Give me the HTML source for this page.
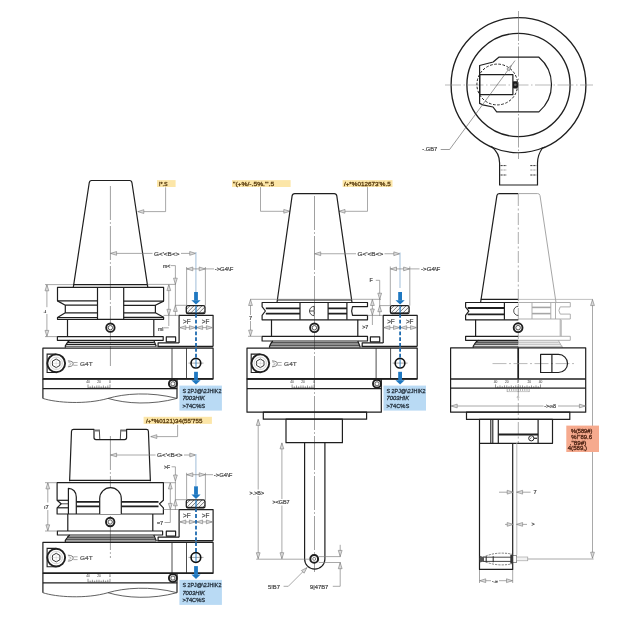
<!DOCTYPE html>
<html><head><meta charset="utf-8"><style>
html,body{margin:0;padding:0;background:#fff;}
svg{display:block;will-change:transform;}
.k{stroke:#1f1f1f;stroke-width:1.2;fill:none;stroke-linejoin:round;}
.kt{stroke:#1f1f1f;stroke-width:0.8;fill:none;}
.kf{stroke:#1f1f1f;stroke-width:1.2;fill:#fff;stroke-linejoin:round;}
.g{stroke:#7a7a7a;stroke-width:0.65;fill:none;}
.lg{stroke:#b4b4b4;stroke-width:0.9;fill:none;}
.c{stroke:#777;stroke-width:0.7;fill:none;stroke-dasharray:34 2.2 1.6 2.2;}
.tx{font-family:"Liberation Sans",sans-serif;fill:#3a3a3a;}
.tl{font-family:"Liberation Sans",sans-serif;fill:#3a2a10;}
</style></head><body>
<svg width="640" height="640" viewBox="0 0 640 640">
<path d="M110.4,186 V366" class="c"/>
<path d="M73.3,287.3 L89.2,183 Q89.5,180.5 91.6,180.5 L129.6,180.5 Q131.7,180.5 132,183 L147.8,287.3" class="k"/>
<line x1="73.4" y1="284.6" x2="147.4" y2="284.6" class="k"/>
<path d="M57.5,287.3 H163.6 V301.1 L155.4,305.3 V312.8 L163.6,317.3 V319.3 H57.5 V317.5 L65.3,312.8 V305.2 L57.5,300.9 Z" class="k"/>
<line x1="57.5" y1="300.9" x2="97.5" y2="300.9" class="k"/>
<line x1="65.3" y1="305.2" x2="97.5" y2="305.2" class="k"/>
<line x1="65.3" y1="312.8" x2="97.5" y2="312.8" class="k"/>
<line x1="57.5" y1="317.5" x2="97.5" y2="317.5" class="k"/>
<line x1="123.7" y1="301.1" x2="163.6" y2="301.1" class="k"/>
<line x1="123.7" y1="305.3" x2="155.4" y2="305.3" class="k"/>
<line x1="123.7" y1="312.8" x2="155.4" y2="312.8" class="k"/>
<line x1="123.7" y1="317.3" x2="163.6" y2="317.3" class="k"/>
<line x1="97.5" y1="287.3" x2="97.5" y2="319.3" class="k"/>
<line x1="123.7" y1="287.3" x2="123.7" y2="319.3" class="k"/>
<path d="M67.5,319.3 V336.6 M153.8,319.3 V336.6" class="k"/>
<circle cx="110.4" cy="327.7" r="4.2" fill="#fff" stroke="#1f1f1f" stroke-width="1.9"/>
<circle cx="110.4" cy="327.7" r="2.18" fill="none" stroke="#444" stroke-width="0.9"/>
<rect x="57.4" y="336.6" width="105.79999999999998" height="3.6999999999999886" class="k" />
<path d="M69.7,340.3 Q68,341.8 67,343.2 L65.3,345.8 V347.8" class="k"/>
<path d="M153.8,340.3 L156.3,346.4" class="k"/>
<line x1="67.2" y1="342.4" x2="153.9" y2="342.4" class="k"/>
<line x1="66" y1="344.4" x2="155" y2="344.4" class="k"/>
<line x1="65.3" y1="346.3" x2="156.3" y2="346.3" class="kt"/>
<path d="M179.1,342.9 V315.3 H213.1 V346.4" class="k"/>
<path d="M158.1,346.6 V342.9 H179.1" class="k"/>
<line x1="157.5" y1="346.4" x2="213.1" y2="346.4" stroke="#1f1f1f" stroke-width="1.5"/>
<rect x="166.3" y="336.9" width="9.3" height="4.9" class="k" />
<text x="186.8" y="323.9" font-size="6.3" fill="#4a4a4a" stroke="#4a4a4a" stroke-width="0.22" font-family="Liberation Sans, sans-serif" text-anchor="middle">&gt;F</text>
<text x="205.6" y="323.9" font-size="6.3" fill="#4a4a4a" stroke="#4a4a4a" stroke-width="0.22" font-family="Liberation Sans, sans-serif" text-anchor="middle">&gt;F</text>
<line x1="179.6" y1="327.6" x2="212.6" y2="327.6" class="g"/>
<path d="M185.80,325.70 L179.8,327.6 L185.80,329.50 Z" fill="#dcdcdc" stroke="#7a7a7a" stroke-width="0.6" stroke-linejoin="miter"/>
<path d="M189.40,329.50 L195.4,327.6 L189.40,325.70 Z" fill="#dcdcdc" stroke="#7a7a7a" stroke-width="0.6" stroke-linejoin="miter"/>
<path d="M202.60,325.70 L196.6,327.6 L202.60,329.50 Z" fill="#dcdcdc" stroke="#7a7a7a" stroke-width="0.6" stroke-linejoin="miter"/>
<path d="M206.40,329.50 L212.4,327.6 L206.40,325.70 Z" fill="#dcdcdc" stroke="#7a7a7a" stroke-width="0.6" stroke-linejoin="miter"/>
<path d="M196,314 V347" stroke="#1e6bb0" stroke-width="1.8" stroke-dasharray="3.8 2"/>
<clipPath id="ci186305"><rect x="186.3" y="305.6" width="18.7" height="7.9" rx="1.6"/></clipPath>
<rect x="186.3" y="305.6" width="18.7" height="7.9" rx="1.6" fill="#fafafa"/>
<path d="M174.3,313.5 l7.9,-7.9 M178.3,313.5 l7.9,-7.9 M182.3,313.5 l7.9,-7.9 M186.3,313.5 l7.9,-7.9 M190.3,313.5 l7.9,-7.9 M194.3,313.5 l7.9,-7.9 M198.3,313.5 l7.9,-7.9 M202.3,313.5 l7.9,-7.9 M206.3,313.5 l7.9,-7.9 M210.3,313.5 l7.9,-7.9 M214.3,313.5 l7.9,-7.9" stroke="#444" stroke-width="0.7" clip-path="url(#ci186305)"/>
<rect x="186.3" y="305.6" width="18.7" height="7.9" rx="1.6" fill="none" stroke="#1f1f1f" stroke-width="1.3"/>
<path d="M187.3,313.2 H204.0" stroke="#1f1f1f" stroke-width="1.4"/>
<path d="M196,305.8 V313.3" stroke="#1f78c1" stroke-width="1.2"/>
<rect x="194.1" y="292" width="3.8" height="8.500000000000046" fill="#1f78c1"/>
<path d="M191.4,300.20000000000005 L200.6,300.20000000000005 L196,304.6 Z" fill="#1f78c1"/>
<path d="M42.9,378.9 V398.4" class="k"/>
<path d="M177.0,378.9 V398.4" class="k"/>
<path d="M42.9,398.4 C56,402.8 86,404.8 108,398.4 C124,393.6 150,391.4 177,398.4 M108,398.4 C126,403.8 152,405.2 177,398.4" fill="none" stroke="#444" stroke-width="0.85"/>
<line x1="42.9" y1="388.6" x2="177.2" y2="388.6" class="k"/>
<rect x="42.9" y="348.1" width="170.2" height="30.799999999999955" class="k" />
<line x1="42.9" y1="378.9" x2="213.1" y2="378.9" stroke="#1f1f1f" stroke-width="1.6"/>
<line x1="172" y1="348.1" x2="172" y2="378.9" class="kt"/>
<line x1="186.5" y1="348.1" x2="186.5" y2="378.9" class="kt"/>
<line x1="188.5" y1="363.1" x2="203.5" y2="363.1" class="g"/>
<circle cx="195.9" cy="363.2" r="4.85" fill="none" stroke="#111" stroke-width="1.6"/>
<path d="M56.2,354.1 H47.1 V372.5 H56.2" fill="none" stroke="#1f1f1f" stroke-width="1.1"/>
<circle cx="56.2" cy="363.3" r="8.9" fill="#fff" stroke="#1f1f1f" stroke-width="1.9"/>
<circle cx="56.2" cy="363.3" r="6.2" fill="none" stroke="#999" stroke-width="0.4"/>
<polygon points="59.92,365.45 56.20,367.60 52.48,365.45 52.48,361.15 56.20,359.00 59.92,361.15" fill="none" stroke="#1f1f1f" stroke-width="0.9"/>
<path d="M50.2,363.3 H62.2 M56.2,357.3 V369.3" stroke="#bbb" stroke-width="0.4"/>
<path d="M67.9,360.90000000000003 Q73.5,361.2 73.2,363.8 Q73.0,366.5 67.9,366.8" fill="none" stroke="#555" stroke-width="0.75"/>
<path d="M68.5,362.5 Q71.2,362.8 71.10000000000001,363.8 Q71.0,364.90000000000003 68.5,365.2" fill="none" stroke="#777" stroke-width="0.5"/>
<path d="M73.30000000000001,362.5 H77.60000000000001 M73.30000000000001,365.3 H77.60000000000001" stroke="#777" stroke-width="0.6"/>
<text x="80" y="366.1" font-size="6.1" fill="#555" stroke="#555" stroke-width="0.2" font-family="Liberation Sans, sans-serif" textLength="12.6" lengthAdjust="spacingAndGlyphs">G4T</text>
<text x="88" y="382.90000000000003" font-size="3.3" fill="#333" text-anchor="middle" font-family="Liberation Sans, sans-serif">40</text>
<text x="99" y="382.90000000000003" font-size="3.3" fill="#333" text-anchor="middle" font-family="Liberation Sans, sans-serif">20</text>
<text x="110" y="382.90000000000003" font-size="3.3" fill="#333" text-anchor="middle" font-family="Liberation Sans, sans-serif">0</text>
<path d="M88.00,388.1 v-3.6 M90.20,388.1 v-1.8 M92.40,388.1 v-2.6 M94.60,388.1 v-1.8 M96.80,388.1 v-2.6 M99.00,388.1 v-2.6 M101.20,388.1 v-1.8 M103.40,388.1 v-2.6 M105.60,388.1 v-1.8 M107.80,388.1 v-2.6 M110.00,388.1 v-3.6" stroke="#444" stroke-width="0.55"/>
<path d="M88,387.90000000000003 H110" stroke="#444" stroke-width="0.5"/>
<circle cx="172.9" cy="383.8" r="4.0" fill="#fff" stroke="#1f1f1f" stroke-width="1.9"/>
<circle cx="172.9" cy="383.8" r="2.08" fill="none" stroke="#444" stroke-width="0.9"/>
<rect x="179.4" y="385.6" width="42.5" height="25" fill="#b9daf4"/>
<text x="182.4" y="393.0" font-size="5.9" fill="#26333f" stroke="#26333f" stroke-width="0.28" font-family="Liberation Sans, sans-serif" textLength="39" lengthAdjust="spacingAndGlyphs">S 2PJ@\2JHIK2</text>
<text x="182.4" y="400.4" font-size="5.9" fill="#26333f" stroke="#26333f" stroke-width="0.28" font-family="Liberation Sans, sans-serif" font-style="italic" textLength="22.6" lengthAdjust="spacingAndGlyphs">7003HIK</text>
<text x="182.4" y="407.5" font-size="5.9" fill="#26333f" stroke="#26333f" stroke-width="0.28" font-family="Liberation Sans, sans-serif" textLength="22.8" lengthAdjust="spacingAndGlyphs">&gt;74C%S</text>
<path d="M196,348 V358.5" stroke="#1e6bb0" stroke-width="1.8" stroke-dasharray="3.8 2"/>
<path d="M196,359 V367.5" stroke="#1f78c1" stroke-width="0.9"/>
<rect x="194.1" y="371.8" width="3.8" height="8.700000000000035" fill="#1f78c1"/>
<path d="M191.4,380.20000000000005 L200.6,380.20000000000005 L196,384.6 Z" fill="#1f78c1"/>
<line x1="45" y1="284.6" x2="73" y2="284.6" class="g"/>
<line x1="45" y1="336.6" x2="57.4" y2="336.6" class="g"/>
<line x1="46.9" y1="284.8" x2="46.9" y2="336.4" class="g"/>
<path d="M48.80,290.80 L46.9,284.8 L45.00,290.80 Z" fill="#dcdcdc" stroke="#7a7a7a" stroke-width="0.6" stroke-linejoin="miter"/>
<path d="M45.00,330.40 L46.9,336.4 L48.80,330.40 Z" fill="#dcdcdc" stroke="#7a7a7a" stroke-width="0.6" stroke-linejoin="miter"/>
<rect x="44" y="307.2" width="4" height="6.8" fill="#fff"/>
<text x="45.6" y="312.6" font-size="5.6" fill="#4a4a4a" stroke="#4a4a4a" stroke-width="0.22" font-family="Liberation Sans, sans-serif" text-anchor="middle">ı</text>
<path d="M43.6,312.3 H46.2" stroke="#555" stroke-width="0.6"/>
<rect x="157" y="180.1" width="18.6" height="6.9" fill="#fce6a8"/>
<text x="158.9" y="186.1" font-size="5.9" fill="#5a3d10" stroke="#5a3d10" stroke-width="0.28" font-family="Liberation Sans, sans-serif" textLength="8.7" lengthAdjust="spacingAndGlyphs">I*.S</text>
<path d="M165.6,187.3 V211.6 H137.8" class="g"/>
<path d="M143.80,209.70 L137.8,211.6 L143.80,213.50 Z" fill="#dcdcdc" stroke="#7a7a7a" stroke-width="0.6" stroke-linejoin="miter"/>
<line x1="110.4" y1="253.4" x2="195.9" y2="253.4" class="g"/>
<path d="M116.60,251.50 L110.6,253.4 L116.60,255.30 Z" fill="#dcdcdc" stroke="#7a7a7a" stroke-width="0.6" stroke-linejoin="miter"/>
<path d="M189.70,255.30 L195.7,253.4 L189.70,251.50 Z" fill="#dcdcdc" stroke="#7a7a7a" stroke-width="0.6" stroke-linejoin="miter"/>
<rect x="152.5" y="250" width="28.5" height="6.5" fill="#fff"/>
<text x="153.9" y="255.6" font-size="5.9" fill="#4a4a4a" stroke="#4a4a4a" stroke-width="0.22" font-family="Liberation Sans, sans-serif" text-anchor="start" textLength="25.5" lengthAdjust="spacingAndGlyphs">G&lt;'&lt;B&lt;&gt;</text>
<path d="M195.9,252 V292" stroke="#a9c4dc" stroke-width="1.1"/>
<line x1="186.6" y1="267" x2="186.6" y2="305.6" class="g"/>
<line x1="205.4" y1="267" x2="205.4" y2="305.6" class="g"/>
<line x1="186.6" y1="268.9" x2="214" y2="268.9" class="g"/>
<path d="M192.80,267.00 L186.8,268.9 L192.80,270.80 Z" fill="#dcdcdc" stroke="#7a7a7a" stroke-width="0.6" stroke-linejoin="miter"/>
<path d="M199.20,270.80 L205.2,268.9 L199.20,267.00 Z" fill="#dcdcdc" stroke="#7a7a7a" stroke-width="0.6" stroke-linejoin="miter"/>
<text x="214.7" y="270.9" font-size="5.8" fill="#4a4a4a" stroke="#4a4a4a" stroke-width="0.22" font-family="Liberation Sans, sans-serif" text-anchor="start" textLength="18.6" lengthAdjust="spacingAndGlyphs">-&gt;G4\F</text>
<text x="163" y="267.6" font-size="5.2" fill="#4a4a4a" stroke="#4a4a4a" stroke-width="0.22" font-family="Liberation Sans, sans-serif" text-anchor="start">m&lt;</text>
<path d="M170.6,265.6 H175.4 V316" class="g"/>
<path d="M173.50,278.20 L175.4,284.2 L177.30,278.20 Z" fill="#dcdcdc" stroke="#7a7a7a" stroke-width="0.6" stroke-linejoin="miter"/>
<line x1="147.6" y1="284.4" x2="175.6" y2="284.4" class="g"/>
<line x1="168.8" y1="284.6" x2="168.8" y2="326" class="g"/>
<path d="M170.70,290.60 L168.8,284.6 L166.90,290.60 Z" fill="#dcdcdc" stroke="#7a7a7a" stroke-width="0.6" stroke-linejoin="miter"/>
<path d="M166.90,309.30 L168.8,315.3 L170.70,309.30 Z" fill="#dcdcdc" stroke="#7a7a7a" stroke-width="0.6" stroke-linejoin="miter"/>
<path d="M177.30,311.40 L175.4,305.4 L173.50,311.40 Z" fill="#dcdcdc" stroke="#7a7a7a" stroke-width="0.6" stroke-linejoin="miter"/>
<line x1="175.4" y1="305.3" x2="186.3" y2="305.3" class="g"/>
<line x1="163.6" y1="315.4" x2="179.1" y2="315.4" class="g"/>
<text x="158" y="330.5" font-size="5.2" fill="#4a4a4a" stroke="#4a4a4a" stroke-width="0.22" font-family="Liberation Sans, sans-serif" text-anchor="start">ml</text>
<line x1="163.8" y1="327.8" x2="168.8" y2="327.8" class="g"/>
<path d="M110.4,436 V558" class="c"/>
<path d="M69.6,481.2 L71.5,431.2 Q71.7,429.3 73.6,429.3 H94 V437.6 Q94,439.6 96,439.6 H124.6 Q126.6,439.6 126.6,437.6 V429.3 H146.4 Q148.3,429.3 148.4,431.2 L150.4,481.2" class="k"/>
<path d="M99.3,429.6 L99.8,439.4 M120.8,429.6 L120.3,439.4" class="kt"/>
<path d="M94.3,429.6 H99.3 L99.4,431.6 H94.3 Z M120.8,429.6 H126 V431.6 H120.7 Z" fill="#777"/>
<line x1="69.6" y1="480.3" x2="150.4" y2="480.3" class="k"/>
<path d="M57.1,482.7 H163.4 V500.3 L159.5,503.8 L163.4,507.8 V514 H57.1 V507.8 L61.1,503.8 L57.1,500.3 Z" class="k"/>
<path d="M76.3,501.8 H99.7 M121.3,501.8 H158.5" stroke="#1f1f1f" stroke-width="1.7"/>
<path d="M76.3,506.3 H99.7 M121.3,506.3 H158.5" stroke="#1f1f1f" stroke-width="1.7"/>
<line x1="57.1" y1="500.3" x2="68.4" y2="500.3" class="k"/>
<line x1="57.1" y1="507.8" x2="68.4" y2="507.8" class="k"/>
<line x1="61.1" y1="503.8" x2="68.4" y2="503.8" class="kt"/>
<path d="M68.4,514 V488.3 C73,488.3 76.3,492 76.3,497 V514" class="k"/>
<path d="M99.7,514 V498.5 A10.8,10.8 0 0 1 121.3,498.5 V514" class="kf"/>
<path d="M67.8,514 V531 M152.8,514 V531" class="k"/>
<circle cx="110.2" cy="522" r="4.2" fill="#fff" stroke="#1f1f1f" stroke-width="1.9"/>
<circle cx="110.2" cy="522" r="2.18" fill="none" stroke="#444" stroke-width="0.9"/>
<rect x="57.4" y="531" width="105.19999999999999" height="4" class="k" />
<path d="M69.7,535 Q68,536.5 67,538 L65.3,540.3 V542" class="k"/>
<path d="M153.8,535 L156.3,541" class="k"/>
<line x1="67.2" y1="537.1" x2="153.9" y2="537.1" class="k"/>
<line x1="66" y1="539.1" x2="155" y2="539.1" class="k"/>
<line x1="65.3" y1="541" x2="156.3" y2="541" class="kt"/>
<path d="M179.1,537.2 V509.6 H213.1 V540.7" class="k"/>
<path d="M158.1,540.9 V537.2 H179.1" class="k"/>
<line x1="157.5" y1="540.7" x2="213.1" y2="540.7" stroke="#1f1f1f" stroke-width="1.5"/>
<rect x="166.3" y="531.2" width="9.3" height="4.9" class="k" />
<text x="186.8" y="518.2" font-size="6.3" fill="#4a4a4a" stroke="#4a4a4a" stroke-width="0.22" font-family="Liberation Sans, sans-serif" text-anchor="middle">&gt;F</text>
<text x="205.6" y="518.2" font-size="6.3" fill="#4a4a4a" stroke="#4a4a4a" stroke-width="0.22" font-family="Liberation Sans, sans-serif" text-anchor="middle">&gt;F</text>
<line x1="179.6" y1="521.9" x2="212.6" y2="521.9" class="g"/>
<path d="M185.80,520.00 L179.8,521.9 L185.80,523.80 Z" fill="#dcdcdc" stroke="#7a7a7a" stroke-width="0.6" stroke-linejoin="miter"/>
<path d="M189.40,523.80 L195.4,521.9 L189.40,520.00 Z" fill="#dcdcdc" stroke="#7a7a7a" stroke-width="0.6" stroke-linejoin="miter"/>
<path d="M202.60,520.00 L196.6,521.9 L202.60,523.80 Z" fill="#dcdcdc" stroke="#7a7a7a" stroke-width="0.6" stroke-linejoin="miter"/>
<path d="M206.40,523.80 L212.4,521.9 L206.40,520.00 Z" fill="#dcdcdc" stroke="#7a7a7a" stroke-width="0.6" stroke-linejoin="miter"/>
<path d="M196,508.3 V541.3" stroke="#1e6bb0" stroke-width="1.8" stroke-dasharray="3.8 2"/>
<clipPath id="ci186499"><rect x="186.3" y="499.9" width="18.7" height="7.9" rx="1.6"/></clipPath>
<rect x="186.3" y="499.9" width="18.7" height="7.9" rx="1.6" fill="#fafafa"/>
<path d="M174.3,507.79999999999995 l7.9,-7.9 M178.3,507.79999999999995 l7.9,-7.9 M182.3,507.79999999999995 l7.9,-7.9 M186.3,507.79999999999995 l7.9,-7.9 M190.3,507.79999999999995 l7.9,-7.9 M194.3,507.79999999999995 l7.9,-7.9 M198.3,507.79999999999995 l7.9,-7.9 M202.3,507.79999999999995 l7.9,-7.9 M206.3,507.79999999999995 l7.9,-7.9 M210.3,507.79999999999995 l7.9,-7.9 M214.3,507.79999999999995 l7.9,-7.9" stroke="#444" stroke-width="0.7" clip-path="url(#ci186499)"/>
<rect x="186.3" y="499.9" width="18.7" height="7.9" rx="1.6" fill="none" stroke="#1f1f1f" stroke-width="1.3"/>
<path d="M187.3,507.49999999999994 H204.0" stroke="#1f1f1f" stroke-width="1.4"/>
<path d="M196,500.1 V507.6" stroke="#1f78c1" stroke-width="1.2"/>
<rect x="194.1" y="486.3" width="3.8" height="8.49999999999999" fill="#1f78c1"/>
<path d="M191.4,494.5 L200.6,494.5 L196,498.9 Z" fill="#1f78c1"/>
<path d="M42.9,573.2 V592.7" class="k"/>
<path d="M177.0,573.2 V592.7" class="k"/>
<path d="M42.9,592.7 C56,597.1 86,599.1 108,592.7 C124,587.9 150,585.7 177,592.7 M108,592.7 C126,598.1 152,599.5 177,592.7" fill="none" stroke="#444" stroke-width="0.85"/>
<line x1="42.9" y1="582.9" x2="177.2" y2="582.9" class="k"/>
<rect x="42.9" y="542.4" width="170.2" height="30.799999999999955" class="k" />
<line x1="42.9" y1="573.2" x2="213.1" y2="573.2" stroke="#1f1f1f" stroke-width="1.6"/>
<line x1="172" y1="542.4" x2="172" y2="573.2" class="kt"/>
<line x1="186.5" y1="542.4" x2="186.5" y2="573.2" class="kt"/>
<line x1="188.5" y1="557.4" x2="203.5" y2="557.4" class="g"/>
<circle cx="195.9" cy="557.5" r="4.85" fill="none" stroke="#111" stroke-width="1.6"/>
<path d="M56.2,548.4 H47.1 V566.8000000000001 H56.2" fill="none" stroke="#1f1f1f" stroke-width="1.1"/>
<circle cx="56.2" cy="557.6" r="8.9" fill="#fff" stroke="#1f1f1f" stroke-width="1.9"/>
<circle cx="56.2" cy="557.6" r="6.2" fill="none" stroke="#999" stroke-width="0.4"/>
<polygon points="59.92,559.75 56.20,561.90 52.48,559.75 52.48,555.45 56.20,553.30 59.92,555.45" fill="none" stroke="#1f1f1f" stroke-width="0.9"/>
<path d="M50.2,557.6 H62.2 M56.2,551.6 V563.6" stroke="#bbb" stroke-width="0.4"/>
<path d="M67.9,555.2 Q73.5,555.5 73.2,558.1 Q73.0,560.8000000000001 67.9,561.1" fill="none" stroke="#555" stroke-width="0.75"/>
<path d="M68.5,556.8000000000001 Q71.2,557.1 71.10000000000001,558.1 Q71.0,559.2 68.5,559.5" fill="none" stroke="#777" stroke-width="0.5"/>
<path d="M73.30000000000001,556.8000000000001 H77.60000000000001 M73.30000000000001,559.6 H77.60000000000001" stroke="#777" stroke-width="0.6"/>
<text x="80" y="560.4" font-size="6.1" fill="#555" stroke="#555" stroke-width="0.2" font-family="Liberation Sans, sans-serif" textLength="12.6" lengthAdjust="spacingAndGlyphs">G4T</text>
<text x="88" y="577.2" font-size="3.3" fill="#333" text-anchor="middle" font-family="Liberation Sans, sans-serif">40</text>
<text x="99" y="577.2" font-size="3.3" fill="#333" text-anchor="middle" font-family="Liberation Sans, sans-serif">20</text>
<text x="110" y="577.2" font-size="3.3" fill="#333" text-anchor="middle" font-family="Liberation Sans, sans-serif">0</text>
<path d="M88.00,582.4 v-3.6 M90.20,582.4 v-1.8 M92.40,582.4 v-2.6 M94.60,582.4 v-1.8 M96.80,582.4 v-2.6 M99.00,582.4 v-2.6 M101.20,582.4 v-1.8 M103.40,582.4 v-2.6 M105.60,582.4 v-1.8 M107.80,582.4 v-2.6 M110.00,582.4 v-3.6" stroke="#444" stroke-width="0.55"/>
<path d="M88,582.2 H110" stroke="#444" stroke-width="0.5"/>
<circle cx="172.9" cy="578.1" r="4.0" fill="#fff" stroke="#1f1f1f" stroke-width="1.9"/>
<circle cx="172.9" cy="578.1" r="2.08" fill="none" stroke="#444" stroke-width="0.9"/>
<rect x="179.4" y="579.9" width="42.5" height="25" fill="#b9daf4"/>
<text x="182.4" y="587.3" font-size="5.9" fill="#26333f" stroke="#26333f" stroke-width="0.28" font-family="Liberation Sans, sans-serif" textLength="39" lengthAdjust="spacingAndGlyphs">S 2PJ@\2JHIK2</text>
<text x="182.4" y="594.7" font-size="5.9" fill="#26333f" stroke="#26333f" stroke-width="0.28" font-family="Liberation Sans, sans-serif" font-style="italic" textLength="22.6" lengthAdjust="spacingAndGlyphs">7003HIK</text>
<text x="182.4" y="601.8" font-size="5.9" fill="#26333f" stroke="#26333f" stroke-width="0.28" font-family="Liberation Sans, sans-serif" textLength="22.8" lengthAdjust="spacingAndGlyphs">&gt;74C%S</text>
<path d="M196,542.3 V552.8" stroke="#1e6bb0" stroke-width="1.8" stroke-dasharray="3.8 2"/>
<path d="M196,553.3 V561.8" stroke="#1f78c1" stroke-width="0.9"/>
<rect x="194.1" y="566.1" width="3.8" height="8.699999999999978" fill="#1f78c1"/>
<path d="M191.4,574.5 L200.6,574.5 L196,578.9 Z" fill="#1f78c1"/>
<rect x="143.6" y="416.8" width="68.3" height="7.1" fill="#fce6a8"/>
<text x="145.9" y="422.9" font-size="5.9" fill="#5a3d10" stroke="#5a3d10" stroke-width="0.28" font-family="Liberation Sans, sans-serif" textLength="56.5" lengthAdjust="spacingAndGlyphs">/+*%0121)34(55'755</text>
<path d="M177.6,424.8 V436.6 H150.8" class="g"/>
<path d="M156.80,434.70 L150.8,436.6 L156.80,438.50 Z" fill="#dcdcdc" stroke="#7a7a7a" stroke-width="0.6" stroke-linejoin="miter"/>
<line x1="110.4" y1="455" x2="195" y2="455" class="g"/>
<path d="M116.60,453.10 L110.6,455 L116.60,456.90 Z" fill="#dcdcdc" stroke="#7a7a7a" stroke-width="0.6" stroke-linejoin="miter"/>
<path d="M189.80,456.90 L195.8,455 L189.80,453.10 Z" fill="#dcdcdc" stroke="#7a7a7a" stroke-width="0.6" stroke-linejoin="miter"/>
<rect x="155.5" y="451.6" width="28.5" height="6.5" fill="#fff"/>
<text x="156.9" y="457.2" font-size="5.9" fill="#4a4a4a" stroke="#4a4a4a" stroke-width="0.22" font-family="Liberation Sans, sans-serif" text-anchor="start" textLength="25.5" lengthAdjust="spacingAndGlyphs">G&lt;'&lt;B&lt;&gt;</text>
<path d="M195.9,454 V486" stroke="#a9c4dc" stroke-width="1.1"/>
<line x1="186.6" y1="472.8" x2="186.6" y2="500" class="g"/>
<line x1="205.4" y1="472.8" x2="205.4" y2="500" class="g"/>
<line x1="186.6" y1="474.7" x2="213" y2="474.7" class="g"/>
<path d="M192.80,472.80 L186.8,474.7 L192.80,476.60 Z" fill="#dcdcdc" stroke="#7a7a7a" stroke-width="0.6" stroke-linejoin="miter"/>
<path d="M199.20,476.60 L205.2,474.7 L199.20,472.80 Z" fill="#dcdcdc" stroke="#7a7a7a" stroke-width="0.6" stroke-linejoin="miter"/>
<text x="213.8" y="476.7" font-size="5.8" fill="#4a4a4a" stroke="#4a4a4a" stroke-width="0.22" font-family="Liberation Sans, sans-serif" text-anchor="start" textLength="18.6" lengthAdjust="spacingAndGlyphs">-&gt;G4\F</text>
<text x="164" y="468.8" font-size="5.2" fill="#4a4a4a" stroke="#4a4a4a" stroke-width="0.22" font-family="Liberation Sans, sans-serif" text-anchor="start">&gt;F</text>
<path d="M171.6,466.8 H175.4 V510" class="g"/>
<path d="M173.50,475.00 L175.4,481 L177.30,475.00 Z" fill="#dcdcdc" stroke="#7a7a7a" stroke-width="0.6" stroke-linejoin="miter"/>
<line x1="164" y1="482.7" x2="175.6" y2="482.7" class="g"/>
<line x1="170.3" y1="482.9" x2="170.3" y2="522.5" class="g"/>
<path d="M172.20,488.90 L170.3,482.9 L168.40,488.90 Z" fill="#dcdcdc" stroke="#7a7a7a" stroke-width="0.6" stroke-linejoin="miter"/>
<path d="M168.40,503.40 L170.3,509.4 L172.20,503.40 Z" fill="#dcdcdc" stroke="#7a7a7a" stroke-width="0.6" stroke-linejoin="miter"/>
<line x1="163.4" y1="509.5" x2="179.1" y2="509.5" class="g"/>
<path d="M177.30,505.80 L175.4,499.8 L173.50,505.80 Z" fill="#dcdcdc" stroke="#7a7a7a" stroke-width="0.6" stroke-linejoin="miter"/>
<line x1="175.4" y1="499.7" x2="186.3" y2="499.7" class="g"/>
<text x="157" y="524.8" font-size="5.6" fill="#4a4a4a" stroke="#4a4a4a" stroke-width="0.22" font-family="Liberation Sans, sans-serif" text-anchor="start">≈7</text>
<line x1="164.5" y1="522.5" x2="170.3" y2="522.5" class="g"/>
<line x1="45" y1="482.7" x2="57" y2="482.7" class="g"/>
<line x1="45" y1="531" x2="57.4" y2="531" class="g"/>
<line x1="47.8" y1="482.9" x2="47.8" y2="530.8" class="g"/>
<path d="M49.70,488.90 L47.8,482.9 L45.90,488.90 Z" fill="#dcdcdc" stroke="#7a7a7a" stroke-width="0.6" stroke-linejoin="miter"/>
<path d="M45.90,524.80 L47.8,530.8 L49.70,524.80 Z" fill="#dcdcdc" stroke="#7a7a7a" stroke-width="0.6" stroke-linejoin="miter"/>
<rect x="43.5" y="502.5" width="6" height="7.5" fill="#fff"/>
<text x="46.3" y="508.6" font-size="5.6" fill="#4a4a4a" stroke="#4a4a4a" stroke-width="0.22" font-family="Liberation Sans, sans-serif" text-anchor="middle">ı7</text>
<path d="M314.5,196 V572" class="c"/>
<rect x="232" y="180.1" width="58.6" height="6.9" fill="#fce6a8"/>
<text x="233" y="186.1" font-size="5.9" fill="#5a3d10" stroke="#5a3d10" stroke-width="0.28" font-family="Liberation Sans, sans-serif" textLength="41.2" lengthAdjust="spacingAndGlyphs">"(+%/-.5%."'.5</text>
<rect x="342.6" y="180.1" width="49.9" height="6.9" fill="#fce6a8"/>
<text x="343.9" y="186.1" font-size="5.9" fill="#5a3d10" stroke="#5a3d10" stroke-width="0.28" font-family="Liberation Sans, sans-serif" textLength="46.8" lengthAdjust="spacingAndGlyphs">/+*%012673'%.5</text>
<path d="M260.5,187.1 V211.3 H289.8" class="g"/>
<path d="M283.80,213.20 L289.8,211.3 L283.80,209.40 Z" fill="#dcdcdc" stroke="#7a7a7a" stroke-width="0.6" stroke-linejoin="miter"/>
<path d="M367.5,187.1 V211.3 H339" class="g"/>
<path d="M345.00,209.40 L339,211.3 L345.00,213.20 Z" fill="#dcdcdc" stroke="#7a7a7a" stroke-width="0.6" stroke-linejoin="miter"/>
<path d="M277,302.5 L292.1,195.9 Q292.5,193.7 294.7,193.7 L334.2,193.7 Q336.4,193.7 336.8,195.9 L352,302.5" class="k"/>
<line x1="277.2" y1="300" x2="351.8" y2="300" class="k"/>
<line x1="250" y1="299.3" x2="381" y2="299.3" class="g"/>
<path d="M262.1,302.5 H367.5 V306.6 L352.5,306.6 Q350.8,311 352.5,315.3 H367.5 V319.8 H262.1 V315.3 L265.4,311 L262.1,306.6 Z" class="k"/>
<path d="M265.8,308.3 H300 M328.1,308.3 H347" stroke="#1f1f1f" stroke-width="1.7"/>
<path d="M265.8,313.6 H300 M328.1,313.6 H347" stroke="#1f1f1f" stroke-width="1.7"/>
<line x1="300" y1="302.5" x2="300" y2="319.8" class="k"/>
<line x1="328.1" y1="302.5" x2="328.1" y2="319.8" class="k"/>
<line x1="346.9" y1="302.5" x2="346.9" y2="319.8" class="k"/>
<path d="M314.2,306.3 A4.7,4.7 0 0 0 314.2,315.7 Z" class="kt"/>
<line x1="309.5" y1="311" x2="314.2" y2="311" class="kt"/>
<path d="M271.5,319.8 V336.3 M357.8,319.8 V336.3" class="k"/>
<circle cx="314.4" cy="327.8" r="4.3" fill="#fff" stroke="#1f1f1f" stroke-width="1.9"/>
<circle cx="314.4" cy="327.8" r="2.24" fill="none" stroke="#444" stroke-width="0.9"/>
<rect x="262.1" y="336.3" width="105.39999999999998" height="4.699999999999989" class="k" />
<path d="M272.8,341 Q271.3,342.5 270.6,344 L269.5,346.5 V347.8" class="k"/>
<path d="M357.8,341 L360.3,347.4" class="k"/>
<line x1="271" y1="342.8" x2="358.5" y2="342.8" class="k"/>
<line x1="269.9" y1="345.1" x2="359.5" y2="345.1" class="k"/>
<line x1="269.5" y1="347" x2="360.3" y2="347" class="kt"/>
<path d="M383.2,342.9 V315.3 H417.2 V346.4" class="k"/>
<path d="M362.2,346.6 V342.9 H383.2" class="k"/>
<line x1="361.6" y1="346.4" x2="417.2" y2="346.4" stroke="#1f1f1f" stroke-width="1.5"/>
<rect x="370.4" y="336.9" width="9.3" height="4.9" class="k" />
<text x="390.9" y="323.9" font-size="6.3" fill="#4a4a4a" stroke="#4a4a4a" stroke-width="0.22" font-family="Liberation Sans, sans-serif" text-anchor="middle">&gt;F</text>
<text x="409.7" y="323.9" font-size="6.3" fill="#4a4a4a" stroke="#4a4a4a" stroke-width="0.22" font-family="Liberation Sans, sans-serif" text-anchor="middle">&gt;F</text>
<line x1="383.7" y1="327.6" x2="416.7" y2="327.6" class="g"/>
<path d="M389.90,325.70 L383.9,327.6 L389.90,329.50 Z" fill="#dcdcdc" stroke="#7a7a7a" stroke-width="0.6" stroke-linejoin="miter"/>
<path d="M393.50,329.50 L399.5,327.6 L393.50,325.70 Z" fill="#dcdcdc" stroke="#7a7a7a" stroke-width="0.6" stroke-linejoin="miter"/>
<path d="M406.70,325.70 L400.7,327.6 L406.70,329.50 Z" fill="#dcdcdc" stroke="#7a7a7a" stroke-width="0.6" stroke-linejoin="miter"/>
<path d="M410.50,329.50 L416.5,327.6 L410.50,325.70 Z" fill="#dcdcdc" stroke="#7a7a7a" stroke-width="0.6" stroke-linejoin="miter"/>
<path d="M400.1,314 V347" stroke="#1e6bb0" stroke-width="1.8" stroke-dasharray="3.8 2"/>
<clipPath id="ci390305"><rect x="390.4" y="305.6" width="18.7" height="7.9" rx="1.6"/></clipPath>
<rect x="390.4" y="305.6" width="18.7" height="7.9" rx="1.6" fill="#fafafa"/>
<path d="M378.4,313.5 l7.9,-7.9 M382.4,313.5 l7.9,-7.9 M386.4,313.5 l7.9,-7.9 M390.4,313.5 l7.9,-7.9 M394.4,313.5 l7.9,-7.9 M398.4,313.5 l7.9,-7.9 M402.4,313.5 l7.9,-7.9 M406.4,313.5 l7.9,-7.9 M410.4,313.5 l7.9,-7.9 M414.4,313.5 l7.9,-7.9 M418.4,313.5 l7.9,-7.9" stroke="#444" stroke-width="0.7" clip-path="url(#ci390305)"/>
<rect x="390.4" y="305.6" width="18.7" height="7.9" rx="1.6" fill="none" stroke="#1f1f1f" stroke-width="1.3"/>
<path d="M391.4,313.2 H408.09999999999997" stroke="#1f1f1f" stroke-width="1.4"/>
<path d="M400.1,305.8 V313.3" stroke="#1f78c1" stroke-width="1.2"/>
<rect x="398.20000000000005" y="292" width="3.8" height="8.500000000000046" fill="#1f78c1"/>
<path d="M395.5,300.20000000000005 L404.70000000000005,300.20000000000005 L400.1,304.6 Z" fill="#1f78c1"/>
<rect x="247.0" y="378.9" width="134.29999999999998" height="33.30000000000001" class="k" />
<line x1="247.0" y1="388.6" x2="381.3" y2="388.6" class="k"/>
<rect x="247.0" y="348.1" width="170.2" height="30.799999999999955" class="k" />
<line x1="247.0" y1="378.9" x2="417.2" y2="378.9" stroke="#1f1f1f" stroke-width="1.6"/>
<line x1="376.1" y1="348.1" x2="376.1" y2="378.9" class="kt"/>
<line x1="390.6" y1="348.1" x2="390.6" y2="378.9" class="kt"/>
<line x1="392.6" y1="363.1" x2="407.6" y2="363.1" class="g"/>
<circle cx="400.0" cy="363.2" r="4.85" fill="none" stroke="#111" stroke-width="1.6"/>
<path d="M260.3,354.1 H251.20000000000002 V372.5 H260.3" fill="none" stroke="#1f1f1f" stroke-width="1.1"/>
<circle cx="260.3" cy="363.3" r="8.9" fill="#fff" stroke="#1f1f1f" stroke-width="1.9"/>
<circle cx="260.3" cy="363.3" r="6.2" fill="none" stroke="#999" stroke-width="0.4"/>
<polygon points="264.02,365.45 260.30,367.60 256.58,365.45 256.58,361.15 260.30,359.00 264.02,361.15" fill="none" stroke="#1f1f1f" stroke-width="0.9"/>
<path d="M254.3,363.3 H266.3 M260.3,357.3 V369.3" stroke="#bbb" stroke-width="0.4"/>
<path d="M272.0,360.90000000000003 Q277.6,361.2 277.3,363.8 Q277.1,366.5 272.0,366.8" fill="none" stroke="#555" stroke-width="0.75"/>
<path d="M272.6,362.5 Q275.3,362.8 275.2,363.8 Q275.1,364.90000000000003 272.6,365.2" fill="none" stroke="#777" stroke-width="0.5"/>
<path d="M277.4,362.5 H281.7 M277.4,365.3 H281.7" stroke="#777" stroke-width="0.6"/>
<text x="284.1" y="366.1" font-size="6.1" fill="#555" stroke="#555" stroke-width="0.2" font-family="Liberation Sans, sans-serif" textLength="12.6" lengthAdjust="spacingAndGlyphs">G4T</text>
<text x="292.1" y="382.90000000000003" font-size="3.3" fill="#333" text-anchor="middle" font-family="Liberation Sans, sans-serif">40</text>
<text x="303.1" y="382.90000000000003" font-size="3.3" fill="#333" text-anchor="middle" font-family="Liberation Sans, sans-serif">20</text>
<text x="314.1" y="382.90000000000003" font-size="3.3" fill="#333" text-anchor="middle" font-family="Liberation Sans, sans-serif">0</text>
<path d="M292.10,388.1 v-3.6 M294.30,388.1 v-1.8 M296.50,388.1 v-2.6 M298.70,388.1 v-1.8 M300.90,388.1 v-2.6 M303.10,388.1 v-2.6 M305.30,388.1 v-1.8 M307.50,388.1 v-2.6 M309.70,388.1 v-1.8 M311.90,388.1 v-2.6 M314.10,388.1 v-3.6" stroke="#444" stroke-width="0.55"/>
<path d="M292.1,387.90000000000003 H314.1" stroke="#444" stroke-width="0.5"/>
<circle cx="377.0" cy="383.8" r="4.0" fill="#fff" stroke="#1f1f1f" stroke-width="1.9"/>
<circle cx="377.0" cy="383.8" r="2.08" fill="none" stroke="#444" stroke-width="0.9"/>
<rect x="383.5" y="385.6" width="42.5" height="25" fill="#b9daf4"/>
<text x="386.5" y="393.0" font-size="5.9" fill="#26333f" stroke="#26333f" stroke-width="0.28" font-family="Liberation Sans, sans-serif" textLength="39" lengthAdjust="spacingAndGlyphs">S 2PJ@\2JHIK2</text>
<text x="386.5" y="400.4" font-size="5.9" fill="#26333f" stroke="#26333f" stroke-width="0.28" font-family="Liberation Sans, sans-serif" font-style="italic" textLength="22.6" lengthAdjust="spacingAndGlyphs">7003HIK</text>
<text x="386.5" y="407.5" font-size="5.9" fill="#26333f" stroke="#26333f" stroke-width="0.28" font-family="Liberation Sans, sans-serif" textLength="22.8" lengthAdjust="spacingAndGlyphs">&gt;74C%S</text>
<path d="M400.1,348 V358.5" stroke="#1e6bb0" stroke-width="1.8" stroke-dasharray="3.8 2"/>
<path d="M400.1,359 V367.5" stroke="#1f78c1" stroke-width="0.9"/>
<rect x="398.20000000000005" y="371.8" width="3.8" height="8.700000000000035" fill="#1f78c1"/>
<path d="M395.5,380.20000000000005 L404.70000000000005,380.20000000000005 L400.1,384.6 Z" fill="#1f78c1"/>
<rect x="263.3" y="412.2" width="103.30000000000001" height="7.0" class="k" />
<rect x="286" y="419.2" width="56.39999999999998" height="23.5" class="k" />
<path d="M304.6,442.7 V559 A10.15,10.15 0 0 0 324.9,559 V442.7" class="k"/>
<circle cx="314.2" cy="558.9" r="3.9" fill="#fff" stroke="#1f1f1f" stroke-width="2"/>
<circle cx="314.2" cy="558.9" r="1.5" fill="none" stroke="#333" stroke-width="0.6"/>
<line x1="250.5" y1="299.5" x2="250.5" y2="336.1" class="g"/>
<path d="M252.40,305.50 L250.5,299.5 L248.60,305.50 Z" fill="#dcdcdc" stroke="#7a7a7a" stroke-width="0.6" stroke-linejoin="miter"/>
<path d="M248.60,330.10 L250.5,336.1 L252.40,330.10 Z" fill="#dcdcdc" stroke="#7a7a7a" stroke-width="0.6" stroke-linejoin="miter"/>
<rect x="247.5" y="315" width="5" height="6" fill="#fff"/>
<text x="250.5" y="320" font-size="5.6" fill="#4a4a4a" stroke="#4a4a4a" stroke-width="0.22" font-family="Liberation Sans, sans-serif" text-anchor="middle">7</text>
<line x1="248" y1="336.3" x2="262" y2="336.3" class="g"/>
<line x1="314.5" y1="253.75" x2="400" y2="253.75" class="g"/>
<path d="M320.70,251.85 L314.7,253.75 L320.70,255.65 Z" fill="#dcdcdc" stroke="#7a7a7a" stroke-width="0.6" stroke-linejoin="miter"/>
<path d="M393.80,255.65 L399.8,253.75 L393.80,251.85 Z" fill="#dcdcdc" stroke="#7a7a7a" stroke-width="0.6" stroke-linejoin="miter"/>
<rect x="356" y="250.3" width="28.5" height="6.5" fill="#fff"/>
<text x="357.5" y="255.9" font-size="5.9" fill="#4a4a4a" stroke="#4a4a4a" stroke-width="0.22" font-family="Liberation Sans, sans-serif" text-anchor="start" textLength="25.8" lengthAdjust="spacingAndGlyphs">G&lt;'&lt;B&lt;&gt;</text>
<path d="M400,252.5 V288" stroke="#a9c4dc" stroke-width="1.1"/>
<line x1="390.3" y1="266.5" x2="390.3" y2="305.6" class="g"/>
<line x1="409.8" y1="266.5" x2="409.8" y2="305.6" class="g"/>
<line x1="390.3" y1="268.9" x2="419.5" y2="268.9" class="g"/>
<path d="M396.50,267.00 L390.5,268.9 L396.50,270.80 Z" fill="#dcdcdc" stroke="#7a7a7a" stroke-width="0.6" stroke-linejoin="miter"/>
<path d="M403.60,270.80 L409.6,268.9 L403.60,267.00 Z" fill="#dcdcdc" stroke="#7a7a7a" stroke-width="0.6" stroke-linejoin="miter"/>
<text x="421" y="270.9" font-size="5.8" fill="#4a4a4a" stroke="#4a4a4a" stroke-width="0.22" font-family="Liberation Sans, sans-serif" text-anchor="start" textLength="19.4" lengthAdjust="spacingAndGlyphs">-&gt;G4\F</text>
<text x="369.5" y="282.3" font-size="5.4" fill="#4a4a4a" stroke="#4a4a4a" stroke-width="0.22" font-family="Liberation Sans, sans-serif" text-anchor="start">F</text>
<path d="M375.8,280.3 H379.7 V316" class="g"/>
<path d="M377.80,293.20 L379.7,299.2 L381.60,293.20 Z" fill="#dcdcdc" stroke="#7a7a7a" stroke-width="0.6" stroke-linejoin="miter"/>
<line x1="372.4" y1="299.5" x2="372.4" y2="325" class="g"/>
<path d="M374.30,305.50 L372.4,299.5 L370.50,305.50 Z" fill="#dcdcdc" stroke="#7a7a7a" stroke-width="0.6" stroke-linejoin="miter"/>
<path d="M370.50,309.00 L372.4,315 L374.30,309.00 Z" fill="#dcdcdc" stroke="#7a7a7a" stroke-width="0.6" stroke-linejoin="miter"/>
<line x1="367.5" y1="315.4" x2="382.8" y2="315.4" class="g"/>
<path d="M381.60,311.70 L379.7,305.7 L377.80,311.70 Z" fill="#dcdcdc" stroke="#7a7a7a" stroke-width="0.6" stroke-linejoin="miter"/>
<line x1="379.7" y1="305.6" x2="390.3" y2="305.6" class="g"/>
<text x="362.2" y="329.3" font-size="5.4" fill="#4a4a4a" stroke="#4a4a4a" stroke-width="0.22" font-family="Liberation Sans, sans-serif" text-anchor="start">&gt;7</text>
<line x1="258.2" y1="419.4" x2="258.2" y2="558.7" class="g"/>
<path d="M260.10,425.40 L258.2,419.4 L256.30,425.40 Z" fill="#dcdcdc" stroke="#7a7a7a" stroke-width="0.6" stroke-linejoin="miter"/>
<path d="M256.30,552.70 L258.2,558.7 L260.10,552.70 Z" fill="#dcdcdc" stroke="#7a7a7a" stroke-width="0.6" stroke-linejoin="miter"/>
<line x1="281.9" y1="442.9" x2="281.9" y2="558.7" class="g"/>
<path d="M283.80,448.90 L281.9,442.9 L280.00,448.90 Z" fill="#dcdcdc" stroke="#7a7a7a" stroke-width="0.6" stroke-linejoin="miter"/>
<path d="M280.00,552.70 L281.9,558.7 L283.80,552.70 Z" fill="#dcdcdc" stroke="#7a7a7a" stroke-width="0.6" stroke-linejoin="miter"/>
<line x1="256.2" y1="559.2" x2="310" y2="559.2" class="g"/>
<rect x="249" y="489.5" width="17" height="6.5" fill="#fff"/>
<text x="249.5" y="494.5" font-size="5.4" fill="#4a4a4a" stroke="#4a4a4a" stroke-width="0.22" font-family="Liberation Sans, sans-serif" text-anchor="start">&gt;.&gt;B&gt;</text>
<rect x="272" y="499" width="22" height="6.5" fill="#fff"/>
<text x="272.5" y="504" font-size="5.4" fill="#4a4a4a" stroke="#4a4a4a" stroke-width="0.22" font-family="Liberation Sans, sans-serif" text-anchor="start">&gt;&lt;GB7</text>
<line x1="318.8" y1="556.6" x2="340.8" y2="556.6" class="g"/>
<line x1="318.8" y1="562.5" x2="340.8" y2="562.5" class="g"/>
<line x1="340.2" y1="544.8" x2="340.2" y2="556.4" class="g"/>
<path d="M338.30,550.40 L340.2,556.4 L342.10,550.40 Z" fill="#dcdcdc" stroke="#7a7a7a" stroke-width="0.6" stroke-linejoin="miter"/>
<path d="M340.2,562.7 V586.3 H332.8" class="g"/>
<path d="M342.10,568.70 L340.2,562.7 L338.30,568.70 Z" fill="#dcdcdc" stroke="#7a7a7a" stroke-width="0.6" stroke-linejoin="miter"/>
<text x="310" y="588.5" font-size="5.8" fill="#4a4a4a" stroke="#4a4a4a" stroke-width="0.22" font-family="Liberation Sans, sans-serif" text-anchor="start">9|47B7</text>
<text x="268" y="588.5" font-size="5.8" fill="#4a4a4a" stroke="#4a4a4a" stroke-width="0.22" font-family="Liberation Sans, sans-serif" text-anchor="start">5!B7</text>
<path d="M283.6,586.3 H288.3 L307,567.6" class="g"/>
<path d="M304.10,573.19 L307,567.6 L301.41,570.50 Z" fill="#dcdcdc" stroke="#7a7a7a" stroke-width="0.6" stroke-linejoin="miter"/>
<circle cx="518.5" cy="85" r="67.4" fill="none" stroke="#1f1f1f" stroke-width="1.35"/>
<circle cx="518.5" cy="85" r="51.6" fill="none" stroke="#1f1f1f" stroke-width="1.35"/>
<path d="M491.3,146.3 C497,151 499.6,156 499.6,163 V185 H537.5 V163 C537.5,156 540,151.5 542.5,148" fill="#fff" stroke="#1f1f1f" stroke-width="1.2"/>
<path d="M492,147.2 A67.4,67.4 0 0 0 545,147" fill="none" stroke="#1f1f1f" stroke-width="1.2"/>
<path d="M500.5,165.6 h6.3 M530.3,165.6 h6.3" stroke="#222" stroke-width="0.9" stroke-dasharray="2.2 0.8"/>
<path d="M500.5,170 h6.3 M530.3,170 h6.3" stroke="#999" stroke-width="0.9" stroke-dasharray="2.2 0.8"/>
<path d="M500.5,175 h6.3 M530.3,175 h6.3" stroke="#222" stroke-width="0.9" stroke-dasharray="2.2 0.8"/>
<path d="M518.5,11 V159" stroke="#6a6a6a" stroke-width="0.6" stroke-dasharray="30 2 1.5 2"/>
<path d="M445,85 H593" stroke="#8a8a8a" stroke-width="0.6" stroke-dasharray="16 2.5 1.5 2.5"/>
<path d="M498.8,57.2 H538.9 A36,36 0 0 1 538.9,111.9 H496.7 L493,107 L482.7,104.8 L479.6,103.4 V65.5 L493.2,62 Z" class="k"/>
<rect x="479.8" y="74.6" width="33.099999999999966" height="20.10000000000001" class="k" />
<circle cx="497.3" cy="84.5" r="20.4" fill="none" stroke="#1f1f1f" stroke-width="1" stroke-dasharray="2.6 1.6"/>
<rect x="512.9" y="81.2" width="4.9" height="7.2" rx="0.8" fill="#1a1a1a"/>
<circle cx="515.3" cy="84.8" r="1.3" fill="#666"/>
<path d="M515,60.6 L449.6,149.5 H440.7" fill="none" stroke="#555" stroke-width="0.6"/>
<path d="M509.33,70.88 L511.3,65.5 L506.75,68.99 Z" fill="#dcdcdc" stroke="#666" stroke-width="0.6" stroke-linejoin="miter"/>
<text x="422.3" y="151.4" font-size="5.8" fill="#4a4a4a" stroke="#4a4a4a" stroke-width="0.22" font-family="Liberation Sans, sans-serif" text-anchor="start" textLength="15" lengthAdjust="spacingAndGlyphs">-.GB7</text>
<path d="M518.3,193.6 H499.2 Q497.2,193.6 496.9,195.6 L480.6,302.5" class="k"/>
<path d="M518.3,193.6 H537.7 Q539.7,193.6 540,195.6 L556,302.5" fill="none" stroke="#a6a6a6" stroke-width="1.0"/>
<line x1="480.7" y1="299.4" x2="518.3" y2="299.4" class="k"/>
<line x1="518.3" y1="299.4" x2="593" y2="299.4" stroke="#a6a6a6" stroke-width="0.7"/>
<path d="M518.3,194 V443" stroke="#8a8a8a" stroke-width="0.7" stroke-dasharray="12 2.5 2 2.5"/>
<path d="M518.3,302.5 H465.6 V307.2 L468.8,311.2 L465.6,315.3 V319.8 H518.3" class="k"/>
<path d="M467.6,308 H504.4" stroke="#1f1f1f" stroke-width="1.9"/>
<path d="M467.6,314.4 H504.4" stroke="#1f1f1f" stroke-width="1.9"/>
<line x1="504.4" y1="302.5" x2="504.4" y2="319.8" class="k"/>
<path d="M518.3,306.3 A4.6,4.6 0 0 0 518.3,315.5" class="kt"/>
<path d="M518.3,302.5 H570.3 V306.9 L560.2,306.9 Q557.6,310.5 560.2,314.1 H570.3 V319 H518.3" fill="none" stroke="#a6a6a6" stroke-width="0.9"/>
<line x1="532" y1="302.5" x2="532" y2="319" stroke="#a6a6a6" stroke-width="0.9"/>
<line x1="550.8" y1="302.5" x2="550.8" y2="319" stroke="#a6a6a6" stroke-width="0.9"/>
<line x1="555.5" y1="302.5" x2="555.5" y2="319" stroke="#a6a6a6" stroke-width="0.9"/>
<line x1="532" y1="307.4" x2="550.8" y2="307.4" stroke="#a6a6a6" stroke-width="1.6"/>
<line x1="532" y1="313.6" x2="550.8" y2="313.6" stroke="#a6a6a6" stroke-width="1.6"/>
<line x1="560.2" y1="319" x2="560.2" y2="336" stroke="#a6a6a6" stroke-width="0.9"/>
<path d="M475.6,319.8 V336.3" class="k"/>
<line x1="561.2" y1="319.8" x2="561.2" y2="336.3" stroke="#a6a6a6" stroke-width="0.9"/>
<circle cx="518.1" cy="327.7" r="4.4" fill="#fff" stroke="#1f1f1f" stroke-width="1.9"/>
<circle cx="518.1" cy="327.7" r="2.29" fill="none" stroke="#444" stroke-width="0.9"/>
<path d="M518.3,336.3 H465.6 V340.3 H518.3" class="k"/>
<path d="M518.3,336.3 H570.3 V340.3 H518.3" fill="none" stroke="#a6a6a6" stroke-width="0.9"/>
<path d="M478.8,340.3 Q476.5,341.2 475.6,342.5 L473.2,346.3 V347.8" class="k"/>
<line x1="476" y1="342.2" x2="518.3" y2="342.2" class="k"/>
<line x1="474.5" y1="344.2" x2="518.3" y2="344.2" class="k"/>
<line x1="473.3" y1="346.3" x2="518.3" y2="346.3" class="kt"/>
<line x1="518.3" y1="342.2" x2="558.8" y2="342.2" stroke="#a6a6a6" stroke-width="0.9"/>
<line x1="518.3" y1="344.2" x2="560.5" y2="344.2" stroke="#a6a6a6" stroke-width="0.9"/>
<line x1="518.3" y1="346.3" x2="562.5" y2="346.3" stroke="#a6a6a6" stroke-width="0.9"/>
<path d="M558.3,340.3 L562.5,347.8" fill="none" stroke="#a6a6a6" stroke-width="0.9"/>
<rect x="450.6" y="347.8" width="135.10000000000002" height="64.39999999999998" class="k" />
<line x1="450.6" y1="379" x2="585.7" y2="379" stroke="#1f1f1f" stroke-width="1.6"/>
<line x1="450.6" y1="388.1" x2="585.7" y2="388.1" class="k"/>
<line x1="518.2" y1="347.8" x2="518.2" y2="379" stroke="#1f1f1f" stroke-width="1.7"/>
<path d="M492.5,363.6 H575" stroke="#8a8a8a" stroke-width="0.6" stroke-dasharray="14 2.5 2 2.5"/>
<path d="M540.6,354.4 H558.5 A9,9 0 0 1 558.5,372.5 H540.6 Z" class="k"/>
<line x1="551.9" y1="354.4" x2="551.9" y2="372.5" class="k"/>
<text x="495.5" y="382.8" font-size="3.3" fill="#333" text-anchor="middle" font-family="Liberation Sans, sans-serif">40</text>
<text x="506.75" y="382.8" font-size="3.3" fill="#333" text-anchor="middle" font-family="Liberation Sans, sans-serif">20</text>
<text x="518.0" y="382.8" font-size="3.3" fill="#333" text-anchor="middle" font-family="Liberation Sans, sans-serif">0</text>
<text x="529.25" y="382.8" font-size="3.3" fill="#333" text-anchor="middle" font-family="Liberation Sans, sans-serif">20</text>
<text x="540.5" y="382.8" font-size="3.3" fill="#333" text-anchor="middle" font-family="Liberation Sans, sans-serif">40</text>
<path d="M495.50,388.0 v-3.6 M497.75,388.0 v-1.8 M500.00,388.0 v-2.6 M502.25,388.0 v-1.8 M504.50,388.0 v-2.6 M506.75,388.0 v-2.6 M509.00,388.0 v-1.8 M511.25,388.0 v-2.6 M513.50,388.0 v-1.8 M515.75,388.0 v-2.6 M518.00,388.0 v-1.8 M520.25,388.0 v-2.6 M522.50,388.0 v-2.6 M524.75,388.0 v-1.8 M527.00,388.0 v-2.6 M529.25,388.0 v-1.8 M531.50,388.0 v-2.6 M533.75,388.0 v-1.8 M536.00,388.0 v-2.6 M538.25,388.0 v-1.8 M540.50,388.0 v-3.6" stroke="#444" stroke-width="0.55"/>
<path d="M495.5,387.8 H540.5" stroke="#444" stroke-width="0.5"/>
<path d="M507.20,388.6 v3.4 M509.40,388.6 v2.4 M511.60,388.6 v2.4 M513.80,388.6 v2.4 M516.00,388.6 v2.4 M518.20,388.6 v3.4 M520.40,388.6 v2.4 M522.60,388.6 v2.4 M524.80,388.6 v2.4 M527.00,388.6 v2.4 M529.20,388.6 v3.4" stroke="#666" stroke-width="0.5"/>
<path d="M507.2,391.6 H529.2" stroke="#777" stroke-width="0.4"/>
<circle cx="518" cy="397.2" r="0.9" fill="none" stroke="#777" stroke-width="0.5"/>
<line x1="451" y1="406" x2="585.4" y2="406" class="g"/>
<path d="M457.20,404.10 L451.2,406 L457.20,407.90 Z" fill="#dcdcdc" stroke="#7a7a7a" stroke-width="0.6" stroke-linejoin="miter"/>
<path d="M579.40,407.90 L585.4,406 L579.40,404.10 Z" fill="#dcdcdc" stroke="#7a7a7a" stroke-width="0.6" stroke-linejoin="miter"/>
<rect x="543.5" y="402.6" width="14.5" height="6.5" fill="#fff"/>
<text x="544.2" y="408" font-size="5.4" fill="#4a4a4a" stroke="#4a4a4a" stroke-width="0.22" font-family="Liberation Sans, sans-serif" text-anchor="start">-&gt;∞8</text>
<rect x="466.5" y="412.2" width="103.29999999999995" height="7.199999999999989" class="k" />
<rect x="479.5" y="419.4" width="73.0" height="23.900000000000034" class="k" />
<path d="M490.8,419.4 V443.3 M492.8,419.4 V443.3" stroke="#1f1f1f" stroke-width="1.1"/>
<line x1="498.3" y1="419.4" x2="498.3" y2="443.3" class="k"/>
<line x1="538.1" y1="419.4" x2="538.1" y2="443.3" class="k"/>
<line x1="498.3" y1="434.5" x2="538.1" y2="434.5" stroke="#1f1f1f" stroke-width="1.8"/>
<circle cx="531.3" cy="438.3" r="2.6" fill="#fff" stroke="#222" stroke-width="1.0"/>
<path d="M530,438.9 l1.6,-1.4" stroke="#333" stroke-width="0.6"/>
<path d="M534,438.3 h3" stroke="#333" stroke-width="1.3"/>
<path d="M479.5,443.3 V569.4 H512.7 V443.3" class="k"/>
<path d="M479.6,559 Q494,550.6 512.6,554.2 M479.6,559 Q494,567.4 512.6,563.8" fill="none" stroke="#555" stroke-width="0.75" stroke-dasharray="2.2 1.1"/>
<path d="M483,557.2 H511.5 M483,561.4 H511.5" stroke="#333" stroke-width="0.9"/>
<path d="M486.2,556.3 V562.3 M493.2,556.3 V562.3" stroke="#333" stroke-width="1.1"/>
<path d="M479.8,555.8 L484,557.2 V561.4 L479.8,562.4 Z" fill="#555"/>
<rect x="510.3" y="554.6" width="2.6" height="9" fill="#333"/>
<rect x="513" y="555.5" width="3.6" height="7.2" fill="#fff" stroke="#444" stroke-width="0.6"/>
<rect x="516.6" y="557" width="11.2" height="3.8" fill="#f2f2f2" stroke="#999" stroke-width="0.6"/>
<path d="M516.8,443 V555" stroke="#aaa" stroke-width="0.8"/>
<line x1="592.5" y1="299.6" x2="592.5" y2="558.2" class="g"/>
<path d="M594.40,305.60 L592.5,299.6 L590.60,305.60 Z" fill="#dcdcdc" stroke="#7a7a7a" stroke-width="0.6" stroke-linejoin="miter"/>
<path d="M590.60,552.20 L592.5,558.2 L594.40,552.20 Z" fill="#dcdcdc" stroke="#7a7a7a" stroke-width="0.6" stroke-linejoin="miter"/>
<line x1="527.5" y1="559" x2="593.6" y2="559" class="g"/>
<line x1="499" y1="492.2" x2="513.2" y2="492.2" class="g"/>
<path d="M507.20,494.10 L513.2,492.2 L507.20,490.30 Z" fill="#dcdcdc" stroke="#7a7a7a" stroke-width="0.6" stroke-linejoin="miter"/>
<line x1="516.6" y1="492.2" x2="530.6" y2="492.2" class="g"/>
<path d="M522.60,490.30 L516.6,492.2 L522.60,494.10 Z" fill="#dcdcdc" stroke="#7a7a7a" stroke-width="0.6" stroke-linejoin="miter"/>
<text x="533.5" y="494.4" font-size="5.6" fill="#4a4a4a" stroke="#4a4a4a" stroke-width="0.22" font-family="Liberation Sans, sans-serif" text-anchor="start">7</text>
<line x1="505" y1="524.4" x2="513.2" y2="524.4" class="g"/>
<path d="M507.20,526.30 L513.2,524.4 L507.20,522.50 Z" fill="#dcdcdc" stroke="#7a7a7a" stroke-width="0.6" stroke-linejoin="miter"/>
<line x1="516.6" y1="524.4" x2="527" y2="524.4" class="g"/>
<path d="M522.60,522.50 L516.6,524.4 L522.60,526.30 Z" fill="#dcdcdc" stroke="#7a7a7a" stroke-width="0.6" stroke-linejoin="miter"/>
<text x="531.5" y="526.4" font-size="5.4" fill="#4a4a4a" stroke="#4a4a4a" stroke-width="0.22" font-family="Liberation Sans, sans-serif" text-anchor="start">&gt;</text>
<line x1="479.5" y1="570" x2="479.5" y2="583" class="g"/>
<line x1="512.7" y1="570" x2="512.7" y2="583" class="g"/>
<line x1="479.7" y1="580.7" x2="512.5" y2="580.7" class="g"/>
<path d="M485.70,578.80 L479.7,580.7 L485.70,582.60 Z" fill="#dcdcdc" stroke="#7a7a7a" stroke-width="0.6" stroke-linejoin="miter"/>
<path d="M506.50,582.60 L512.5,580.7 L506.50,578.80 Z" fill="#dcdcdc" stroke="#7a7a7a" stroke-width="0.6" stroke-linejoin="miter"/>
<rect x="491" y="578" width="8" height="5" fill="#fff"/>
<text x="492" y="582.5" font-size="4.6" fill="#4a4a4a" stroke="#4a4a4a" stroke-width="0.22" font-family="Liberation Sans, sans-serif" text-anchor="start">-.∞</text>
<rect x="566.3" y="425.6" width="32.7" height="26.4" fill="#f6aa8e"/>
<text x="570.9" y="432.7" font-size="6.1" fill="#4a2010" stroke="#4a2010" stroke-width="0.28" font-family="Liberation Sans, sans-serif" textLength="21.4" lengthAdjust="spacingAndGlyphs">%(589#)</text>
<text x="571.3" y="439" font-size="6.1" fill="#4a2010" stroke="#4a2010" stroke-width="0.28" font-family="Liberation Sans, sans-serif" textLength="20.7" lengthAdjust="spacingAndGlyphs">%!"89.6</text>
<text x="569.8" y="444.7" font-size="6.1" fill="#4a2010" stroke="#4a2010" stroke-width="0.28" font-family="Liberation Sans, sans-serif" textLength="16.6" lengthAdjust="spacingAndGlyphs">."89#)</text>
<text x="567.7" y="450.3" font-size="6.1" fill="#4a2010" stroke="#4a2010" stroke-width="0.28" font-family="Liberation Sans, sans-serif" textLength="19.4" lengthAdjust="spacingAndGlyphs">4(589,)</text>
</svg>
</body></html>
